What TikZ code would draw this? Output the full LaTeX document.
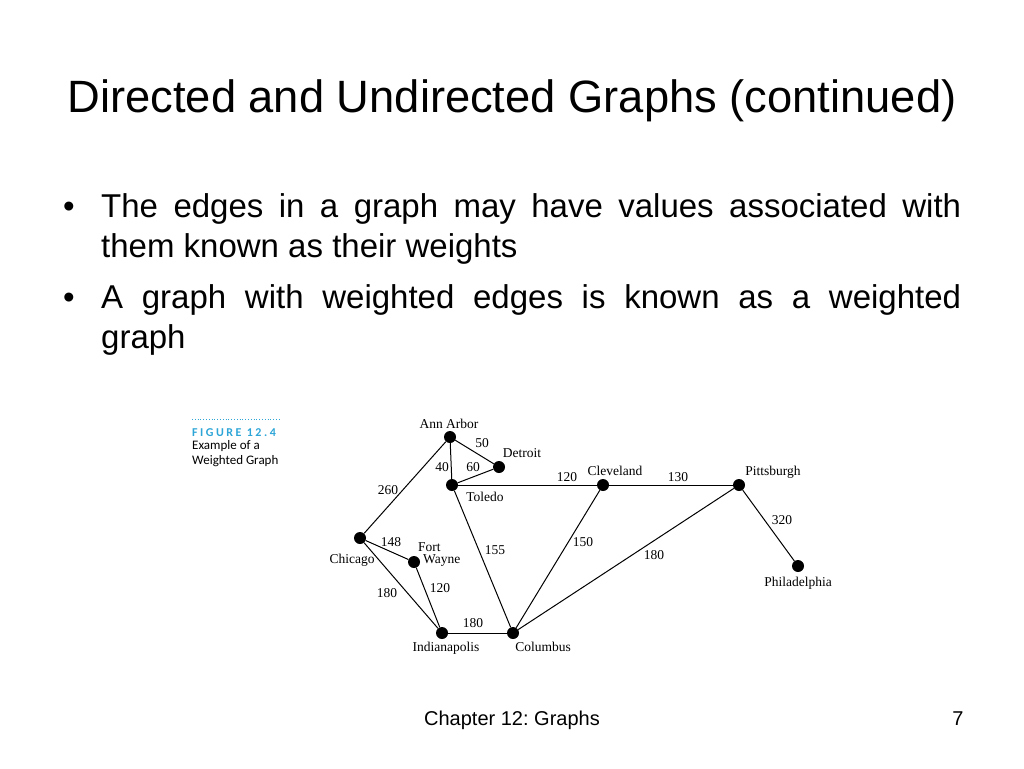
\documentclass[tikz,border=0pt]{standalone}
\usepackage{fontspec}
\setmainfont{Liberation Sans}
\newfontfamily\bookfont{Liberation Serif}
\newfontfamily\capfont{Carlito}
\usepackage{xcolor}
\definecolor{figcyan}{RGB}{45,165,215}
\usetikzlibrary{positioning}
\frenchspacing

\begin{document}
\begin{tikzpicture}[x=1pt,y=-1pt]

    % --- STYLES ---
    \tikzset{city/.style={circle, fill=black, inner sep=0pt, minimum size=12pt}}
    \tikzset{road/.style={draw=black, line width=1pt}}
    \tikzset{cityname/.style={font=\bookfont\fontsize{13.5}{14}\selectfont, inner sep=0pt}}
    \tikzset{weight/.style={font=\bookfont\fontsize{13.5}{14}\selectfont, inner sep=0pt}}
    \tikzset{bullettext/.style={anchor=base west, inner sep=0pt, text width=860pt, align=justify,
        font=\fontsize{33}{40}\selectfont}}
    \tikzset{bulletdot/.style={anchor=base, inner sep=0pt, font=\fontsize{33}{40}\selectfont}}
    \tikzset{caption/.style={anchor=base west, inner sep=0pt, font=\capfont\fontsize{13}{15}\selectfont}}

    \path[fill=white, use as bounding box] (0,0) rectangle (1024,768);

    % --- TITLE AND BULLETS ---
    \node[anchor=base, inner sep=0pt, font=\fontsize{45.3}{50}\selectfont] (title) at (512,112)
        {Directed and Undirected Graphs (continued)};

    \node[bulletdot] (dot1) at (69,217) {\textbullet};
    \node[bullettext] (item1) at (101,217) {\hyphenpenalty=10000
        The edges in a graph may have values associated with\linebreak them known as their weights};
    \node[bulletdot] (dot2) at (69,308) {\textbullet};
    \node[bullettext] (item2) at (101,308) {\hyphenpenalty=10000
        A graph with weighted edges is known as a weighted\linebreak graph};

    % --- FIGURE CAPTION ---
    \draw[figcyan, dotted, line width=0.8pt] (192,419) -- (279,419);
    \node[caption, text=figcyan, font=\capfont\bfseries\addfontfeatures{LetterSpace=21}\fontsize{12}{14}\selectfont]
        (fignum) at (192,436) {FIGURE 12.4};
    \node[caption] (figline1) at (192,449) {Example of a};
    \node[caption] (figline2) at (192,464) {Weighted Graph};

    % --- CITIES ---
    \foreach \name/\x/\y in {annarbor/450/437, detroit/499/467, toledo/452/485, cleveland/603/485,
        pittsburgh/739/485, philadelphia/798/566, columbus/513/633, indianapolis/442/633,
        chicago/360/538, fortwayne/414/562}
        \node[city] (\name) at (\x,\y) {};

    % --- ROADS ---
    \foreach \a/\b in {annarbor/detroit, annarbor/toledo, toledo/detroit, annarbor/chicago,
        toledo/cleveland, cleveland/pittsburgh, pittsburgh/philadelphia, toledo/columbus,
        cleveland/columbus, pittsburgh/columbus, chicago/fortwayne, chicago/indianapolis,
        fortwayne/indianapolis, indianapolis/columbus}
        \draw[road] (\a) -- (\b);

    % --- CITY NAMES ---
    \node[cityname] (lannarbor) at (449,424) {Ann Arbor};
    \node[cityname] (ldetroit) at (522,453) {Detroit};
    \node[cityname] (ltoledo) at (485,497) {Toledo};
    \node[cityname] (lcleveland) at (615,471) {Cleveland};
    \node[cityname] (lpittsburgh) at (773,472) {Pittsburgh};
    \node[cityname] (lphiladelphia) at (798,583) {Philadelphia};
    \node[cityname] (lcolumbus) at (543,647) {Columbus};
    \node[cityname] (lindianapolis) at (446,648) {Indianapolis};
    \node[cityname] (lchicago) at (352,560) {Chicago};
    \node[cityname, anchor=west] (lfort) at (418,547) {Fort};
    \node[cityname, anchor=west] (lwayne) at (423,561) {Wayne};

    % --- WEIGHTS ---
    \node[weight] (w50) at (482,443) {50};
    \node[weight] (w40) at (442,467) {40};
    \node[weight] (w60) at (473,467) {60};
    \node[weight] (w260) at (388,490) {260};
    \node[weight] (w120a) at (567,477) {120};
    \node[weight] (w130) at (678,477) {130};
    \node[weight] (w320) at (782,520) {320};
    \node[weight] (w155) at (495,550) {155};
    \node[weight] (w150) at (583,542) {150};
    \node[weight] (w180a) at (654,555) {180};
    \node[weight] (w148) at (391,542) {148};
    \node[weight] (w180b) at (387,593) {180};
    \node[weight] (w120b) at (440,588) {120};
    \node[weight] (w180c) at (473,623) {180};

    % --- FOOTER ---
    \node[anchor=base, inner sep=0pt, font=\fontsize{20}{22}\selectfont] (footer) at (512,725) {Chapter 12: Graphs};
    \node[anchor=base, inner sep=0pt, font=\fontsize{20}{22}\selectfont] (pagenum) at (958,725) {7};

\end{tikzpicture}
\end{document}
